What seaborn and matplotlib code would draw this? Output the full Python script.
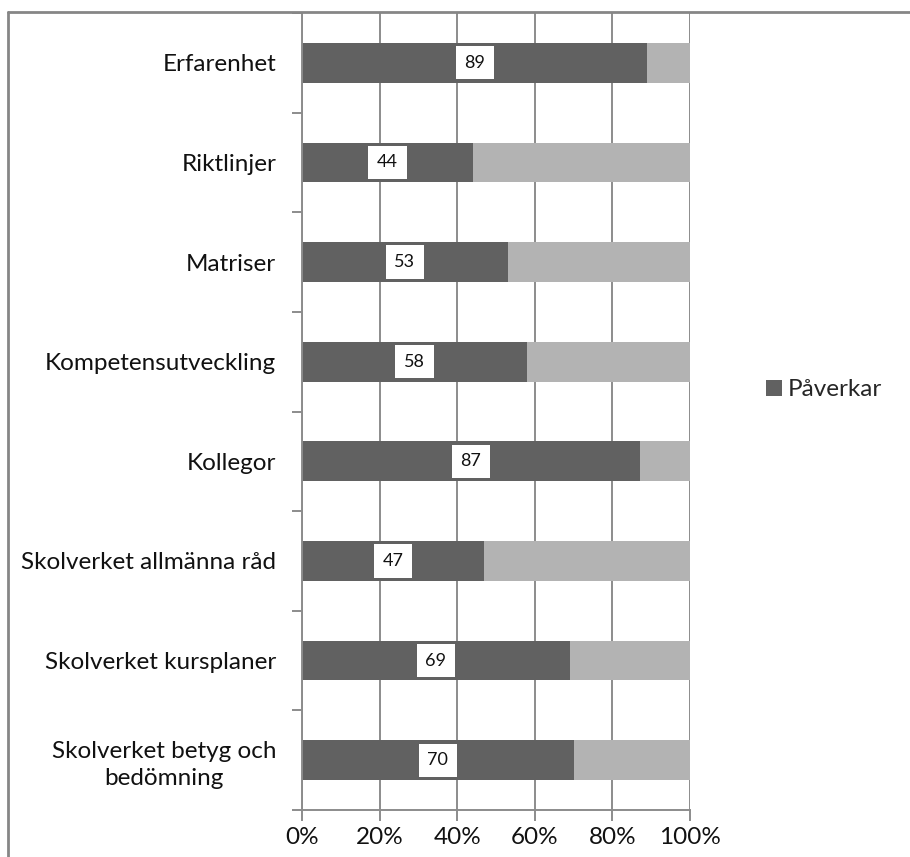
import matplotlib
matplotlib.use("Agg")
import matplotlib.pyplot as plt
import matplotlib.ticker as mticker
from matplotlib.lines import Line2D
from matplotlib.patches import Patch
import seaborn as sns
import pandas as pd
import numpy as np

categories = [
    "Erfarenhet",
    "Riktlinjer",
    "Matriser",
    "Kompetensutveckling",
    "Kollegor",
    "Skolverket allmänna råd",
    "Skolverket kursplaner",
    "Skolverket betyg och\nbedömning",
]
paverkar = [89, 44, 53, 58, 87, 47, 69, 70]
x_ticks = [0, 20, 40, 60, 80, 100]
series_name = "Påverkar"

dark = "#616161"
light = "#b3b3b3"
grid_col = "#8c8c8c"
font = ["Lato", "DejaVu Sans"]

sns.set_theme(style="white")
plt.rcParams["font.family"] = font

df = pd.DataFrame({"kategori": categories, "paverkar": paverkar})
df["total"] = 100

fig = plt.figure(figsize=(9.10, 8.57), dpi=100)
ax = fig.add_axes([302 / 910, 1 - 810 / 857, 388 / 910, 797 / 857])

# Light remainder drawn as the full 100% bar, dark share on top
sns.barplot(data=df, y="kategori", x="total", color=light, width=0.4,
            orient="h", ax=ax, saturation=1, linewidth=0)
sns.barplot(data=df, y="kategori", x="paverkar", color=dark, width=0.4,
            orient="h", ax=ax, saturation=1, linewidth=0)

for i, v in enumerate(paverkar):
    ax.text(v / 2, i, f"{v}", ha="center", va="center", fontsize=13,
            color="#111111",
            bbox=dict(boxstyle="square,pad=0.48", fc="white", ec="none"))

ax.set_xlim(0, 100)
ax.set_ylim(len(categories) - 0.5, -0.5)
ax.set_xticks(x_ticks)
ax.xaxis.set_major_formatter(mticker.FuncFormatter(lambda v, p: f"{v:.0f}%"))
ax.set_xlabel("")
ax.set_ylabel("")

ax.set_axisbelow(True)
ax.grid(axis="x", color=grid_col, linewidth=1.4)
ax.grid(axis="y", visible=False)

for s in ["top", "right"]:
    ax.spines[s].set_visible(False)
for s in ["left", "bottom"]:
    ax.spines[s].set_color(grid_col)
    ax.spines[s].set_linewidth(1.4)

# Category tick marks sit between the bars
ax.set_yticks(np.arange(len(categories)))
ax.set_yticklabels(categories, multialignment="center", linespacing=1.35)
ax.set_yticks(np.arange(-0.5, len(categories)), minor=True)
ax.tick_params(axis="y", which="major", length=0, pad=18.5, labelsize=17.5,
               labelcolor="#111111")
ax.tick_params(axis="y", which="minor", length=7, width=1.4, color=grid_col,
               left=True)
ax.tick_params(axis="x", which="major", length=8, width=1.4, color=grid_col,
               bottom=True, labelsize=17.5, labelcolor="#111111", pad=4)

fig.legend(handles=[Patch(facecolor=dark, edgecolor="none", label=series_name)],
           loc="center left", bbox_to_anchor=(766 / 910, 1 - 390 / 857),
           frameon=False, fontsize=17.5, handlelength=0.65, handleheight=0.65,
           handletextpad=0.25, borderpad=0, borderaxespad=0)

# Chart area border
fig.add_artist(Line2D([8 / 910, 8 / 910], [0, 1 - 12 / 857],
                      transform=fig.transFigure, color="#868686", linewidth=2))
fig.add_artist(Line2D([8 / 910, 1], [1 - 12 / 857, 1 - 12 / 857],
                      transform=fig.transFigure, color="#868686", linewidth=2))

fig.savefig("out.png", dpi=100)
